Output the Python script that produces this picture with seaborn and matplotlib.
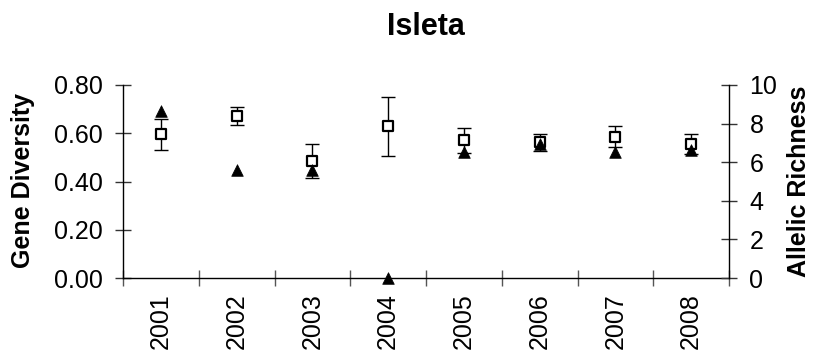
import matplotlib
matplotlib.use("Agg")
import matplotlib.pyplot as plt
import seaborn as sns
import pandas as pd
import numpy as np

# ---- data ----
years = ["2001", "2002", "2003", "2004", "2005", "2006", "2007", "2008"]
gene_diversity = [0.596, 0.672, 0.484, 0.628, 0.570, 0.562, 0.586, 0.556]
gene_div_err = [0.064, 0.037, 0.071, 0.124, 0.050, 0.035, 0.045, 0.040]
allelic_richness = [8.65, 5.60, 5.60, 0.00, 6.52, 6.92, 6.52, 6.65]
left_ticks = [0.0, 0.2, 0.4, 0.6, 0.8]
right_ticks = [0, 2, 4, 6, 8, 10]

df = pd.DataFrame({
    "year": years,
    "pos": np.arange(len(years)),
    "gd": gene_diversity,
    "err": gene_div_err,
    "ar": allelic_richness,
})

sns.set_style("white")
plt.rcParams["font.family"] = ["Liberation Sans", "DejaVu Sans"]
plt.rcParams["text.color"] = "black"
plt.rcParams["axes.labelcolor"] = "black"
plt.rcParams["xtick.color"] = "black"
plt.rcParams["ytick.color"] = "black"

W, H = 819, 354
fig = plt.figure(figsize=(W / 100, H / 100), dpi=100)
x0, x1, ytop, ybot = 123, 729, 85, 278
ax = fig.add_axes([x0 / W, 1 - ybot / H, (x1 - x0) / W, (ybot - ytop) / H])
ax2 = ax.twinx()

# error bars + squares (gene diversity, left axis)
ax.errorbar(df["pos"], df["gd"], yerr=df["err"], fmt="none", ecolor="black",
            elinewidth=1, capsize=5, capthick=1, zorder=2)
sns.scatterplot(data=df, x="pos", y="gd", ax=ax, marker="s", s=42,
                facecolor="white", edgecolor="black", linewidth=1.6,
                zorder=3, legend=False)

# triangles (allelic richness, right axis)
sns.scatterplot(data=df, x="pos", y="ar", ax=ax2, marker="^", s=70,
                color="black", edgecolor="black", linewidth=0.5,
                zorder=3, legend=False, clip_on=False)

n = len(years)
ax.set_xlim(-0.5, n - 0.5)
ax.set_ylim(0, 0.8)
ax2.set_ylim(0, 10)

# x: boundary ticks (major, no labels), labels at centers (minor)
ax.set_xticks(np.arange(-0.5, n, 1.0))
ax.set_xticklabels([])
ax.set_xticks(np.arange(n), minor=True)
ax.set_xticklabels(years, minor=True, rotation=90, fontsize=18)
ax.tick_params(axis="x", which="major", direction="inout", length=11.5,
               width=1, color="#555555", bottom=True)
ax.tick_params(axis="x", which="minor", length=0, pad=11, bottom=True,
               labelcolor="black")

ax.set_yticks(left_ticks)
ax.set_yticklabels([f"{v:.2f}" for v in left_ticks], fontsize=18)
ax.tick_params(axis="y", direction="inout", length=11.5, width=1,
               color="#333333", pad=9, left=True, labelcolor="black")

ax2.set_yticks(right_ticks)
ax2.set_yticklabels([str(v) for v in right_ticks], fontsize=18)
ax2.tick_params(axis="y", direction="inout", length=11.5, width=1,
                color="#333333", pad=9, right=True, labelcolor="black")

ax.set_xlabel("")
ax.set_ylabel("")
ax2.set_ylabel("")

for a in (ax, ax2):
    for side in ("left", "right", "bottom"):
        a.spines[side].set_visible(True)
        a.spines[side].set_color("black")
        a.spines[side].set_linewidth(1)
    a.spines["top"].set_visible(False)
ax2.spines["left"].set_visible(False)
ax2.spines["bottom"].set_visible(False)
ax.spines["right"].set_visible(False)

fig.text(426 / W, 1 - 35 / H, "Isleta", ha="center", va="baseline",
         fontsize=22, fontweight="bold", color="black")
fig.text(23 / W, 1 - 181 / H, "Gene Diversity", ha="center", va="center",
         rotation=90, fontsize=18, fontweight="bold", color="black")
fig.text(799 / W, 1 - 181 / H, "Allelic Richness", ha="center", va="center",
         rotation=90, fontsize=18, fontweight="bold", color="black")

fig.savefig("out.png", dpi=100, facecolor="white")
